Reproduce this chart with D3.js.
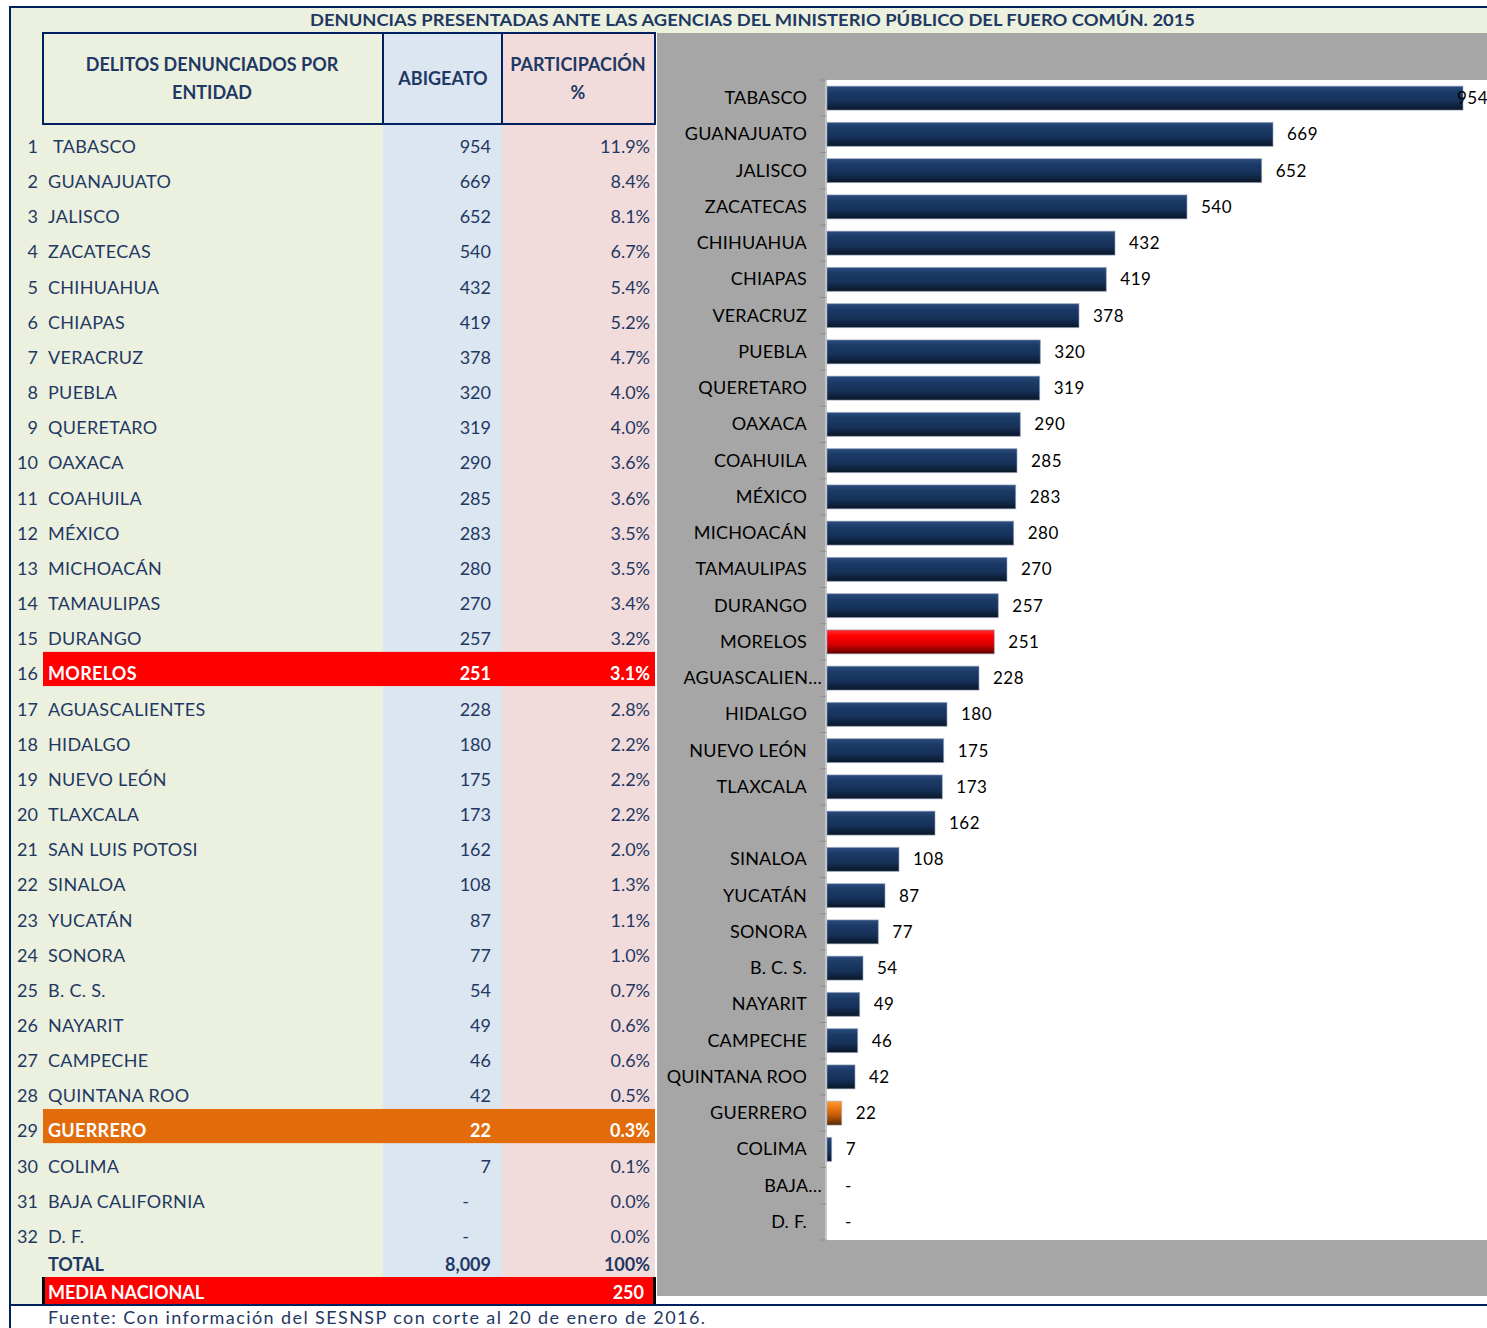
<!DOCTYPE html>
<html>
<head>
<meta charset="utf-8">
<script src="https://cdn.jsdelivr.net/npm/d3@7"></script>
<style>
  body { margin: 0; background: #fff; }
  svg { display: block; font-family: Lato, "Open Sans", sans-serif; }
</style>
</head>
<body>
<svg id="chart"></svg>
<script>
var width = 1487;
var height = 1328;

// data
var states = ['TABASCO', 'GUANAJUATO', 'JALISCO', 'ZACATECAS', 'CHIHUAHUA', 'CHIAPAS', 'VERACRUZ', 'PUEBLA',
  'QUERETARO', 'OAXACA', 'COAHUILA', 'MÉXICO', 'MICHOACÁN', 'TAMAULIPAS', 'DURANGO', 'MORELOS',
  'AGUASCALIENTES', 'HIDALGO', 'NUEVO LEÓN', 'TLAXCALA', 'SAN LUIS POTOSI', 'SINALOA', 'YUCATÁN', 'SONORA',
  'B. C. S.', 'NAYARIT', 'CAMPECHE', 'QUINTANA ROO', 'GUERRERO', 'COLIMA', 'BAJA CALIFORNIA', 'D. F.'];
var values = [954, 669, 652, 540, 432, 419, 378, 320, 319, 290, 285, 283, 280, 270, 257, 251,
  228, 180, 175, 173, 162, 108, 87, 77, 54, 49, 46, 42, 22, 7, 0, 0];
var shares = ['11.9%', '8.4%', '8.1%', '6.7%', '5.4%', '5.2%', '4.7%', '4.0%', '4.0%', '3.6%', '3.6%', '3.5%',
  '3.5%', '3.4%', '3.2%', '3.1%', '2.8%', '2.2%', '2.2%', '2.2%', '2.0%', '1.3%', '1.1%', '1.0%', '0.7%',
  '0.6%', '0.6%', '0.5%', '0.3%', '0.1%', '0.0%', '0.0%'];
// category labels as the chart shows them (truncated / missing)
var chartLabels = ['TABASCO', 'GUANAJUATO', 'JALISCO', 'ZACATECAS', 'CHIHUAHUA', 'CHIAPAS', 'VERACRUZ', 'PUEBLA',
  'QUERETARO', 'OAXACA', 'COAHUILA', 'MÉXICO', 'MICHOACÁN', 'TAMAULIPAS', 'DURANGO', 'MORELOS',
  'AGUASCALIEN…', 'HIDALGO', 'NUEVO LEÓN', 'TLAXCALA', '', 'SINALOA', 'YUCATÁN', 'SONORA',
  'B. C. S.', 'NAYARIT', 'CAMPECHE', 'QUINTANA ROO', 'GUERRERO', 'COLIMA', 'BAJA…', 'D. F.'];
var highlight = { 'MORELOS': 'red', 'GUERRERO': 'orange' };
var totalLabel = '8,009';
var totalShare = '100%';
var mediaNacional = 250;

var title = 'DENUNCIAS PRESENTADAS ANTE LAS AGENCIAS DEL MINISTERIO PÚBLICO DEL FUERO COMÚN. 2015';
var source = 'Fuente: Con información del SESNSP con corte al 20 de enero de 2016.';

var navy = '#1F3864';
var frame = '#002060';
var rowFill = { red: '#FF0000', orange: '#E26B0A' };

var data = states.map(function(s, i) {
  return { name: s, label: chartLabels[i], value: values[i], share: shares[i], rank: i + 1 };
});

var svg = d3.select('#chart').attr('width', width).attr('height', height);

// ---- backgrounds ----
svg.append('rect').attr('x', 10).attr('y', 7).attr('width', width - 10).attr('height', 1297).style('fill', '#EBF1DE');
svg.append('rect').attr('x', 383).attr('y', 33).attr('width', 119).attr('height', 1244).style('fill', '#DCE6F1');
svg.append('rect').attr('x', 502).attr('y', 33).attr('width', 153).attr('height', 1244).style('fill', '#F2DCDB');
svg.append('rect').attr('x', 655).attr('y', 33).attr('width', width - 655).attr('height', 1271).style('fill', '#fff');
svg.append('rect').attr('x', 657).attr('y', 33).attr('width', width - 657).attr('height', 1263).style('fill', '#A6A6A6');

// ---- title ----
svg.append('text')
  .attr('x', 310).attr('y', 26)
  .attr('textLength', 885).attr('lengthAdjust', 'spacingAndGlyphs')
  .style('font-size', '17px').style('font-weight', 'bold').style('fill', navy)
  .text(title);

// ---- table ----
var rowY = d3.scaleBand().domain(states).range([124.5, 124.5 + 32 * 35.16]);

var rows = svg.append('g').selectAll('.row').data(data).enter()
  .append('g').classed('row', true)
  .attr('transform', function(d) { return 'translate(0,' + rowY(d.name) + ')'; });

rows.filter(function(d) { return highlight[d.name]; })
  .append('rect')
  .attr('x', 43).attr('y', 0).attr('width', 612).attr('height', rowY.bandwidth() - 1)
  .style('fill', function(d) { return rowFill[highlight[d.name]]; });

var rowText = function(sel) {
  return sel.attr('y', 28.5).style('font-size', '18px')
    .style('fill', function(d) { return highlight[d.name] ? '#fff' : navy; })
    .style('font-weight', function(d) { return highlight[d.name] ? 'bold' : 'normal'; });
};
rows.append('text').attr('x', 38).attr('text-anchor', 'end')
  .attr('y', 28.5).style('font-size', '18px').style('fill', navy)
  .text(function(d) { return d.rank; });
rowText(rows.append('text')).attr('x', function(d) { return d.rank === 1 ? 53 : 48; })
  .style('letter-spacing', '0.3px')
  .text(function(d) { return d.name; });
rowText(rows.append('text')).attr('x', function(d) { return d.value ? 491 : 469; }).attr('text-anchor', 'end')
  .text(function(d) { return d.value ? d3.format(',')(d.value) : '-'; });
rowText(rows.append('text')).attr('x', 650).attr('text-anchor', 'end')
  .text(function(d) { return d.share; });

// total row
var totalY = 1271;
[[48, 'start', 'TOTAL'], [491, 'end', totalLabel], [650, 'end', totalShare]].forEach(function(t) {
  svg.append('text').attr('x', t[0]).attr('y', totalY).attr('text-anchor', t[1])
    .style('font-size', '18px').style('font-weight', 'bold').style('fill', navy).text(t[2]);
});

// media nacional row
svg.append('rect').attr('x', 43).attr('y', 1277).attr('width', 612).attr('height', 27).style('fill', '#FF0000');
svg.append('rect').attr('x', 42).attr('y', 1277).attr('width', 3).attr('height', 27).style('fill', '#000');
svg.append('rect').attr('x', 653).attr('y', 1277).attr('width', 3).attr('height', 27).style('fill', '#000');
svg.append('text').attr('x', 48).attr('y', 1299).style('font-size', '18px').style('font-weight', 'bold')
  .style('fill', '#fff').text('MEDIA NACIONAL');
svg.append('text').attr('x', 644).attr('y', 1299).attr('text-anchor', 'end').style('font-size', '18px')
  .style('font-weight', 'bold').style('fill', '#fff').text(mediaNacional);

// header box
svg.append('rect').attr('x', 43).attr('y', 33).attr('width', 612).attr('height', 91)
  .style('fill', 'none').style('stroke', frame).style('stroke-width', 2);
[383, 502].forEach(function(x) {
  svg.append('line').attr('x1', x).attr('x2', x).attr('y1', 33).attr('y2', 124)
    .style('stroke', frame).style('stroke-width', 2);
});
var headers = [
  [212, 71, 'DELITOS DENUNCIADOS POR'], [212, 99, 'ENTIDAD'],
  [443, 85, 'ABIGEATO'],
  [578, 71, 'PARTICIPACIÓN'], [578, 99, '%']
];
svg.append('g').selectAll('text').data(headers).enter().append('text')
  .attr('x', function(d) { return d[0]; }).attr('y', function(d) { return d[1]; })
  .attr('text-anchor', 'middle').style('font-size', '18px').style('font-weight', 'bold')
  .style('fill', navy).text(function(d) { return d[2]; });

// ---- bar chart ----
var plot = { left: 826, top: 80, bottom: 1240 };
svg.append('rect').attr('x', plot.left).attr('y', plot.top)
  .attr('width', width - plot.left).attr('height', plot.bottom - plot.top).style('fill', '#fff');

var x = d3.scaleLinear().domain([0, d3.max(values)]).range([plot.left, 1462]);
var y = d3.scaleBand().domain(states).range([plot.top, plot.bottom]).paddingInner(0.34).paddingOuter(0.17);

var defs = svg.append('defs');
var gradients = {
  navy: ['#2B4C7E', '#1B3A66', '#16325A', '#0A1628'],
  red: ['#FF3030', '#FF0000', '#D80000', '#600000'],
  orange: ['#FF9A30', '#F47B14', '#C05A08', '#5A2800']
};
Object.keys(gradients).forEach(function(k) {
  var g = defs.append('linearGradient').attr('id', 'grad-' + k)
    .attr('x1', 0).attr('x2', 0).attr('y1', 0).attr('y2', 1);
  [0, 0.25, 0.6, 1].forEach(function(o, i) {
    g.append('stop').attr('offset', o).attr('stop-color', gradients[k][i]);
  });
});

// axis line and boundary ticks
var band = y.step();
var y0 = plot.top;
svg.append('line').attr('x1', plot.left).attr('x2', plot.left).attr('y1', plot.top).attr('y2', plot.bottom)
  .style('stroke', '#C8C8C8').style('stroke-width', 2);
svg.append('g').selectAll('line').data(d3.range(states.length + 1)).enter().append('line')
  .attr('x1', plot.left - 6).attr('x2', plot.left)
  .attr('y1', function(i) { return y0 + i * band; }).attr('y2', function(i) { return y0 + i * band; })
  .style('stroke', '#8C8C8C').style('stroke-width', 1);

var bars = svg.append('g').selectAll('.bar').data(data).enter().append('g').classed('bar', true);
bars.filter(function(d) { return d.value > 0; })
  .append('rect')
  .attr('x', x(0) + 1)
  .attr('y', function(d) { return y(d.name); })
  .attr('width', function(d) { return Math.max(x(d.value) - x(0), 2); })
  .attr('height', y.bandwidth())
  .style('fill', function(d) {
    var h = highlight[d.name];
    return 'url(#grad-' + (h || 'navy') + ')';
  })
  .style('stroke', 'rgba(150,165,190,0.6)').style('stroke-width', 1);

bars.append('text')
  .attr('x', function(d) {
    var ex = x(d.value) + 15;
    return ex + 30 > width ? width + 1 : (d.value ? ex : x(0) + 19);
  })
  .attr('text-anchor', function(d) { return x(d.value) + 45 > width ? 'end' : 'start'; })
  .attr('y', function(d) { return y(d.name) + y.bandwidth() / 2 + 6; })
  .style('font-size', '17px').style('fill', '#000').style('letter-spacing', '0.5px')
  .text(function(d) { return d.value ? d.value : '-'; });

bars.append('text')
  .attr('x', function(d) { return /…$/.test(d.label) ? 822 : 807; }).attr('text-anchor', 'end')
  .attr('y', function(d) { return y(d.name) + y.bandwidth() / 2 + 6; })
  .style('font-size', '18px').style('fill', '#000').style('letter-spacing', '0.2px')
  .text(function(d) { return d.label; });

// ---- frame lines ----
svg.append('line').attr('x1', 10).attr('x2', width).attr('y1', 7).attr('y2', 7).style('stroke', frame).style('stroke-width', 2);
svg.append('line').attr('x1', 10).attr('x2', 10).attr('y1', 6).attr('y2', height).style('stroke', frame).style('stroke-width', 2);
svg.append('line').attr('x1', 10).attr('x2', width).attr('y1', 1305).attr('y2', 1305).style('stroke', frame).style('stroke-width', 2);

// ---- source ----
svg.append('text').attr('x', 48).attr('y', 1324)
  .attr('textLength', 657).attr('lengthAdjust', 'spacing')
  .style('font-size', '18px').style('fill', navy).text(source);
</script>
</body>
</html>
